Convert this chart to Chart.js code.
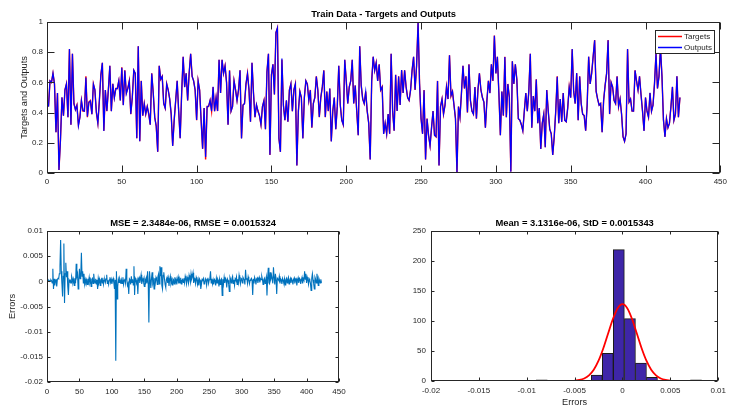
<!DOCTYPE html>
<html><head><meta charset="utf-8">
<script src="https://cdn.jsdelivr.net/npm/chart.js@4.4.1/dist/chart.umd.min.js"></script>
<style>
html,body{margin:0;padding:0;background:#fff;}
#wrap{position:relative;width:731px;height:407px;background:#fff;overflow:hidden;}
.c{position:absolute;}
canvas{display:block;}
</style></head><body>
<div id="wrap">
<div class="c" style="left:0;top:0;"><canvas id="top" width="731" height="200"></canvas></div>
<div class="c" style="left:0;top:200px;"><canvas id="err" width="365" height="207"></canvas></div>
<div class="c" style="left:380px;top:200px;"><canvas id="hist" width="351" height="207"></canvas></div>
</div>
<script>
// ---- data ----
const targets = [
0.44,0.61,0.60,0.66,0.59,0.27,0.53,0.02,0.22,0.50,
0.38,0.55,0.59,0.37,0.82,0.32,0.79,0.46,0.42,0.45,
0.32,0.37,0.48,0.41,0.41,0.64,0.37,0.47,0.48,0.39,
0.59,0.55,0.40,0.33,0.48,0.65,0.73,0.28,0.55,0.41,
0.55,0.71,0.41,0.59,0.50,0.56,0.56,0.61,0.48,0.70,
0.45,0.68,0.53,0.56,0.61,0.39,0.50,0.68,0.66,0.23,
0.84,0.21,0.61,0.38,0.46,0.39,0.44,0.39,0.32,0.66,
0.53,0.37,0.31,0.14,0.71,0.62,0.64,0.46,0.43,0.59,
0.55,0.49,0.39,0.18,0.35,0.48,0.61,0.41,0.23,0.53,
0.77,0.57,0.66,0.48,0.66,0.79,0.64,0.61,0.55,0.35,
0.61,0.55,0.35,0.16,0.43,0.09,0.44,0.44,0.48,0.41,
0.57,0.41,0.50,0.41,0.75,
0.53,0.75,0.66,0.71,0.60,0.32,0.68,0.41,0.44,0.61,
0.55,0.48,0.55,0.68,0.23,0.45,0.46,0.59,0.66,0.55,
0.34,0.73,0.53,0.37,0.45,0.41,0.38,0.32,0.44,0.48,
0.29,0.67,0.79,0.12,0.65,0.72,0.52,0.93,0.96,0.23,
0.14,0.75,0.45,0.35,0.48,0.34,0.55,0.59,0.41,0.55,
0.59,0.05,0.41,0.54,0.50,0.23,0.50,0.61,0.59,0.48,
0.55,0.30,0.46,0.50,0.64,0.55,0.37,0.50,0.57,0.68,
0.37,0.54,0.41,0.56,0.21,0.41,0.50,0.29,0.44,0.71,
0.45,0.35,0.32,0.75,0.61,0.46,0.57,0.61,0.75,0.46,
0.58,0.41,0.25,0.84,0.58,0.49,0.46,0.54,0.41,0.33,
0.09,0.61,0.77,0.68,0.73,0.61,0.72,0.55,0.57,0.26,
0.33,
0.26,0.39,0.26,0.79,0.41,0.28,0.65,0.41,0.64,0.45,
0.68,0.53,0.68,0.57,0.50,0.48,0.55,0.68,0.77,0.55,
0.71,1.00,0.59,0.36,0.26,0.55,0.09,0.36,0.25,0.18,
0.30,0.41,0.25,0.24,0.61,0.05,0.44,0.49,0.39,0.45,
0.57,0.49,0.78,0.51,0.54,0.45,0.36,0.00,0.44,0.37,
0.53,0.71,0.56,0.64,0.40,0.72,0.48,0.41,0.39,0.57,
0.36,0.55,0.66,0.55,0.50,0.47,0.30,0.48,0.61,0.53,
0.72,0.61,0.91,0.66,0.77,0.53,0.25,0.54,0.38,0.77,
0.37,0.59,0.50,0.01,0.74,0.59,0.72,0.62,0.36,0.35,
0.32,0.28,0.41,0.53,0.41,0.54,0.79,0.30,0.51,0.41,
0.62,0.33,0.43,0.16,0.33,0.39,0.17,0.55,0.41,0.29,
0.26,0.12,
0.24,0.41,0.64,0.33,0.49,0.34,0.53,0.35,0.34,0.43,
0.57,0.50,0.82,0.54,0.46,0.66,0.35,0.64,0.46,0.39,
0.38,0.28,0.45,0.77,0.59,0.66,0.77,0.88,0.54,0.49,
0.45,0.46,0.27,0.48,0.58,0.66,0.88,0.39,0.60,0.57,
0.48,0.46,0.64,0.44,0.49,0.39,0.24,0.21,0.26,0.82,
0.47,0.49,0.41,0.41,0.68,0.61,0.55,0.64,0.52,0.41,
0.28,0.50,0.41,0.37,0.53,0.41,0.45,0.59,0.79,0.56,
0.64,0.83,0.64,0.35,0.24,0.36,0.30,0.33,0.44,0.57,
0.35,0.39,0.64,0.37,0.50
];

// errors (targets - outputs), in units of 1e-4
const errorsE4 = [
2,1,2,0,1,3,1,-3,25,-15,
5,-8,2,3,-10,4,6,5,15,30,
82,20,-5,-30,10,75,-43,15,37,8,20,-10,-27,3,0,
2,-3,10,5,-2,4,-8,6,-4,35,10,15,-15,3,25,
5,8,57,10,20,-3,15,-5,4,-2,
3,-6,5,-2,8,-3,2,-10,4,6,-4,15,2,-3,5,
-5,3,-15,6,-2,4,-8,3,5,-3,7,-6,2,4,-2,
5,13,-4,2,-6,3,8,-2,4,-5,2,6,-3,-15,3,
-158,20,-35,-10,4,-2,6,2,-5,3,-4,8,-6,2,5,
-3,25,4,-8,-4,-25,5,3,-6,10,-2,4,-7,30,-27,
6,3,-4,2,-25,5,8,-3,4,13,-5,2,6,-3,-10,
4,-2,6,-4,20,-3,-82,20,3,-13,5,18,-4,2,-15,
6,-3,8,4,-6,10,15,-5,30,10,28,-8,-15,12,18,
5,-6,-12,4,8,-3,6,-9,3,10,-4,2,-7,5,3,
-5,8,-2,4,-6,3,9,-4,5,-3,7,-5,2,4,-2,
6,-3,10,4,-5,8,3,-4,12,6,-2,15,5,10,17,
-3,6,2,-5,8,4,-6,3,-8,5,2,-15,-6,4,3,
6,-5,-3,5,2,-8,4,7,-4,3,6,20,-3,5,-5,
3,-6,4,2,-8,6,-3,5,2,-10,4,-6,3,5,-28,
4,-5,8,-3,6,3,-12,5,2,-6,-20,8,4,-3,6,
10,-4,3,-8,5,2,9,-6,4,-3,12,3,-5,6,4,
-3,8,5,3,-6,23,4,6,-4,9,3,-5,2,4,6,
2,-27,5,-4,8,3,-6,5,7,-3,4,8,-2,5,3,
10,4,-6,3,6,-4,2,9,-28,5,27,-3,-5,18,6,
12,4,-4,28,8,-6,15,3,-25,6,4,2,10,-4,5,
3,-5,6,2,-4,5,-7,3,6,-3,4,8,-5,2,6,
-3,5,2,-6,4,7,-4,3,5,-8,2,7,-3,6,4,
-5,3,8,-4,5,2,20,4,15,-3,8,3,-6,5,2,
-4,-18,6,15,3,-5,-15,8,4,-3,15,5,-8,6,2,
-3,4,-3
];

// histogram of errors
const histCenters = [-0.01533,-0.01418,-0.01303,-0.01188,-0.01073,-0.00958,-0.00843,-0.00728,-0.00613,-0.00498,-0.00383,-0.00268,-0.00153,-0.00038,0.00078,0.00193,0.00308,0.00423,0.00538,0.00653,0.00768];
const histCounts  = [1,0,0,0,0,0,2,0,0,0,1,10,46,219,104,30,6,0,1,0,2];

// fitted normal curve as drawn
const fitX = [-0.005,-0.0045,-0.004,-0.0035,-0.003,-0.0025,-0.002,-0.0015,-0.001,-0.0005,0,0.0005,0.001,0.0015,0.002,0.0025,0.003,0.0035,0.004,0.0045,0.005];
const fitY = [0.6,1.7,4.2,9.4,18.7,33.8,54.5,79.2,103.4,121.4,128,121.4,103.4,79.2,54.5,33.8,18.7,9.4,4.2,1.7,0.6];

// tick settings
const topXTicks = {min:0, max:450, step:50};
const topYTicks = {min:0, max:1, step:0.2};
const errYTicks = {min:-0.02, max:0.01, step:0.005};
const histXTicks = {min:-0.02, max:0.01, step:0.005};
const histYTicks = {min:0, max:250, step:50};

const titles = {
  top: 'Train Data - Targets and Outputs',
  err: 'MSE = 2.3484e-06, RMSE = 0.0015324',
  hist: 'Mean = 3.1316e-06, StD = 0.0015343'
};

// ---- rendering ----
const FONT = '"Liberation Sans", Arial, Helvetica, sans-serif';
const TXT = '#262626';
Chart.defaults.font.family = FONT;
Chart.defaults.color = TXT;

const errors = errorsE4.map(v => v / 1e4);
const outputs = targets.map((t, i) => +(t - errors[i]).toFixed(5));
const pts = arr => arr.map((y, i) => ({x: i + 1, y}));
const fmt = v => String(+(+v).toFixed(6));

function scale(t, width, height, pad, extra) {
  const s = {
    type: 'linear', min: t.min, max: t.max, offset: false,
    grid: {display: false, drawTicks: false}, border: {display: false},
    ticks: {stepSize: t.step, color: TXT, font: {size: 8, family: FONT}, padding: pad,
            autoSkip: false, maxRotation: 0, callback: fmt}
  };
  if (width != null) s.afterFit = sc => { sc.width = width; };
  if (height != null) s.afterFit = sc => { sc.height = height; };
  return Object.assign(s, extra || {});
}

function frame(cfg) {
  return {
    id: 'frame',
    afterDraw(chart) {
      const ctx = chart.ctx, a = chart.chartArea, sx = chart.scales.x, sy = chart.scales.y;
      const L = cfg.tick;
      const l = Math.round(a.left) + 0.5, r = Math.round(a.right) - 0.5;
      const t = Math.round(a.top) + 0.5, b = Math.round(a.bottom) - 0.5;
      ctx.save();
      ctx.strokeStyle = TXT; ctx.lineWidth = 1;
      ctx.beginPath();
      sx.ticks.forEach(tk => {
        const p = Math.round(sx.getPixelForValue(tk.value)) + 0.5;
        ctx.moveTo(p, b); ctx.lineTo(p, b - L); ctx.moveTo(p, t); ctx.lineTo(p, t + L);
      });
      sy.ticks.forEach(tk => {
        const p = Math.round(sy.getPixelForValue(tk.value)) + 0.5;
        ctx.moveTo(l, p); ctx.lineTo(l + L, p); ctx.moveTo(r, p); ctx.lineTo(r - L, p);
      });
      ctx.stroke();
      ctx.strokeRect(l, t, r - l, b - t);
      ctx.textAlign = 'center'; ctx.textBaseline = 'middle';
      ctx.fillStyle = '#000';
      ctx.font = 'bold 9.4px ' + FONT;
      ctx.fillText(cfg.title, (a.left + a.right) / 2, a.top - 8);
      ctx.fillStyle = TXT;
      ctx.font = '9.2px ' + FONT;
      if (cfg.ylabel) {
        ctx.save(); ctx.translate(cfg.ylabelX, (a.top + a.bottom) / 2); ctx.rotate(-Math.PI / 2);
        ctx.fillText(cfg.ylabel, 0, 0); ctx.restore();
      }
      if (cfg.xlabel) ctx.fillText(cfg.xlabel, (a.left + a.right) / 2, cfg.xlabelY);
      if (cfg.legend) {
        const ds = chart.data.datasets;
        ctx.fillStyle = '#fff';
        ctx.fillRect(655.5, 30.5, 59, 23);
        ctx.strokeStyle = TXT; ctx.lineWidth = 1;
        ctx.strokeRect(655.5, 30.5, 59, 23);
        ctx.font = '8px ' + FONT; ctx.textAlign = 'left';
        [ds[0], ds[1]].forEach((d, i) => {
          const y = 36.5 + i * 11;
          ctx.strokeStyle = d.borderColor; ctx.lineWidth = 1.5;
          ctx.beginPath(); ctx.moveTo(658, y); ctx.lineTo(682, y); ctx.stroke();
          ctx.fillStyle = TXT; ctx.fillText(d.label, 684, y);
        });
      }
      ctx.restore();
    }
  };
}

const common = {responsive: false, animation: false, events: [],
  plugins: {legend: {display: false}, tooltip: {enabled: false}}};

new Chart(document.getElementById('top'), {
  type: 'line',
  data: {datasets: [
    {label: 'Targets', data: pts(targets), borderColor: '#ff0000', borderWidth: 1.4, pointRadius: 0, tension: 0, order: 2},
    {label: 'Outputs', data: pts(outputs), borderColor: '#0000ff', borderWidth: 1.2, pointRadius: 0, tension: 0, order: 1}
  ]},
  options: Object.assign({}, common, {
    layout: {padding: {top: 22, right: 8, left: 0, bottom: 0}},
    scales: {x: scale(topXTicks, null, 27, 4), y: scale(topYTicks, 47, null, 4)}
  }),
  plugins: [frame({tick: 7, title: titles.top, ylabel: 'Targets and Outputs', ylabelX: 24.5, legend: true})]
});

new Chart(document.getElementById('err'), {
  type: 'line',
  data: {datasets: [
    {label: 'Errors', data: pts(errors), borderColor: '#0072BD', borderWidth: 1.1, pointRadius: 0, tension: 0}
  ]},
  options: Object.assign({}, common, {
    layout: {padding: {top: 31, right: 26, left: 0, bottom: 0}},
    scales: {x: scale(topXTicks, null, 25, 5), y: scale(errYTicks, 47, null, 4)}
  }),
  plugins: [frame({tick: 3, title: titles.err, ylabel: 'Errors', ylabelX: 12})]
});

new Chart(document.getElementById('hist'), {
  type: 'bar',
  data: {datasets: [
    {type: 'line', label: 'Fit', data: fitX.map((x, i) => ({x, y: fitY[i]})), borderColor: '#ff0000', borderWidth: 1.8,
     pointRadius: 0, cubicInterpolationMode: 'monotone', order: 1},
    {type: 'bar', label: 'Histogram', data: histCenters.map((x, i) => ({x, y: histCounts[i]})),
     backgroundColor: 'rgb(62,38,168)', borderColor: '#1a1a1a', borderWidth: 1,
     barPercentage: 1, categoryPercentage: 1, order: 2}
  ]},
  options: Object.assign({}, common, {
    layout: {padding: {top: 31, right: 8, left: 0, bottom: 0}},
    scales: {x: scale(histXTicks, null, 26, 5), y: scale(histYTicks, 51, null, 5)}
  }),
  plugins: [frame({tick: 3, title: titles.hist, xlabel: 'Errors', xlabelY: 202})]
});
</script>
</body></html>
